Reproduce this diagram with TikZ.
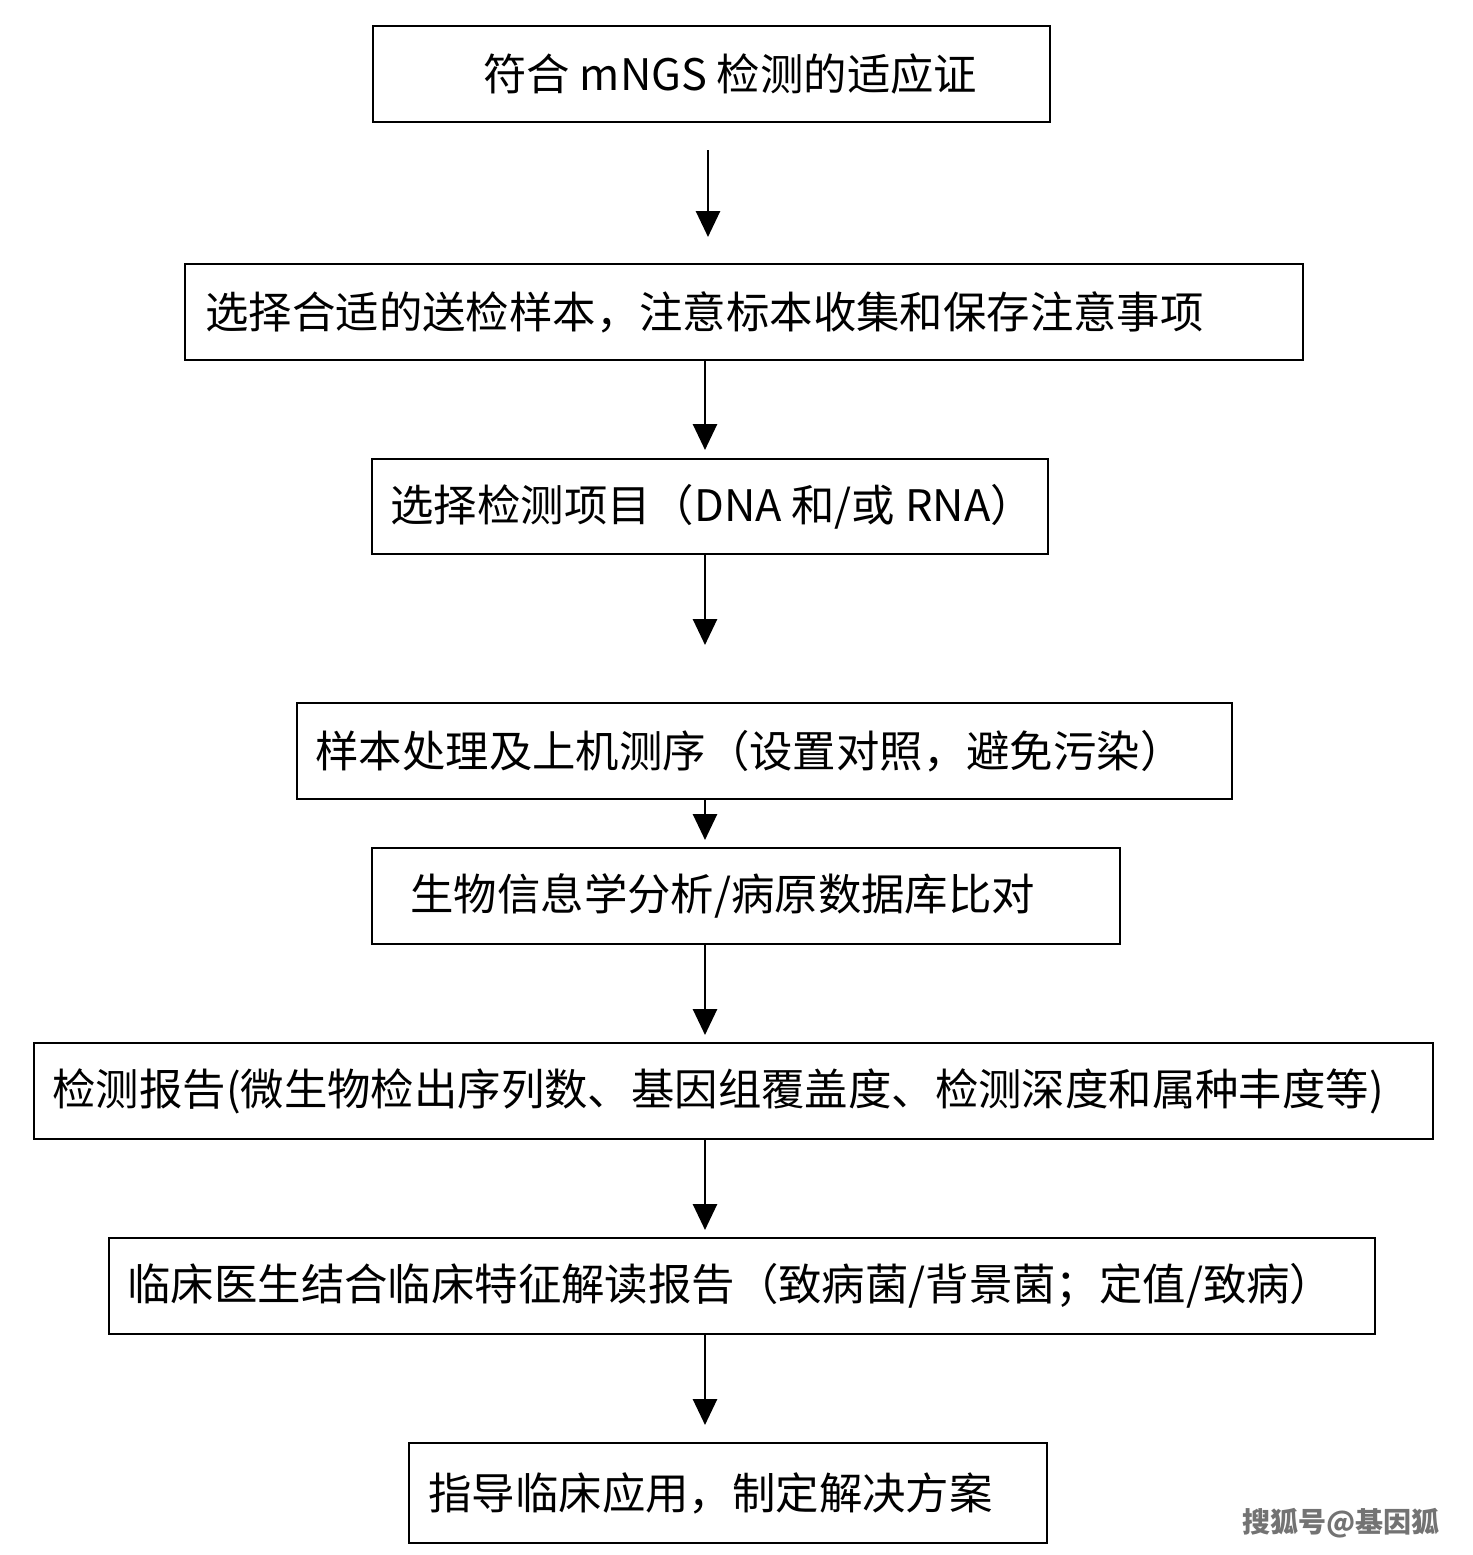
\documentclass[tikz,border=0pt]{standalone}
\usepackage{fontspec}
\setmainfont{Noto Sans CJK SC}
\usetikzlibrary{arrows.meta}
\begin{document}
\begin{tikzpicture}[x=0.5bp,y=-0.5bp,
  box/.style={draw,line width=1.4bp},
  txt/.style={anchor=west,inner sep=0pt,font=\fontsize{21.7bp}{25bp}\selectfont},
  arr/.style={line width=1.4bp,-{Triangle[width=12bp,length=13bp]}}]
\useasboundingbox (0,0) rectangle (1473,1555);
\foreach \n/\xa/\ya/\xb/\yb/\tx/\t in {
 1/373/26/1050/122/483/{符合 mNGS 检测的适应证},
 2/185/264/1303/360/205/{选择合适的送检样本，注意标本收集和保存注意事项},
 3/372/459/1048/554/390/{选择检测项目（DNA 和/或 RNA）},
 4/297/703/1232/799/315/{样本处理及上机测序（设置对照，避免污染）},
 5/372/848/1120/944/410/{生物信息学分析/病原数据库比对},
 6/34/1043/1433/1139/52/{检测报告(微生物检出序列数、基因组覆盖度、检测深度和属种丰度等)},
 7/109/1238/1375/1334/127/{临床医生结合临床特征解读报告（致病菌/背景菌；定值/致病）},
 8/409/1443/1047/1543/428/{指导临床应用，制定解决方案}}{
  \draw[box] (\xa,\ya) rectangle (\xb,\yb);
  \node[txt] (t\n) at (\tx,{(\ya+\yb)/2}) {\t};
}
\coordinate (a1s) at (708,150); \coordinate (a1e) at (708,237);
\coordinate (a2s) at (705,360); \coordinate (a2e) at (705,450);
\coordinate (a3s) at (705,554); \coordinate (a3e) at (705,645);
\coordinate (a4s) at (705,799); \coordinate (a4e) at (705,840);
\coordinate (a5s) at (705,944); \coordinate (a5e) at (705,1035);
\coordinate (a6s) at (705,1139); \coordinate (a6e) at (705,1230);
\coordinate (a7s) at (705,1334); \coordinate (a7e) at (705,1425);
\foreach \i in {1,...,7}{\draw[arr] (a\i s) -- (a\i e);}
\node[anchor=east,inner sep=0pt,text=black!55,font=\fontsize{14bp}{16bp}\selectfont\bfseries] (wm) at (1440,1523) {搜狐号@基因狐};
\end{tikzpicture}
\end{document}
